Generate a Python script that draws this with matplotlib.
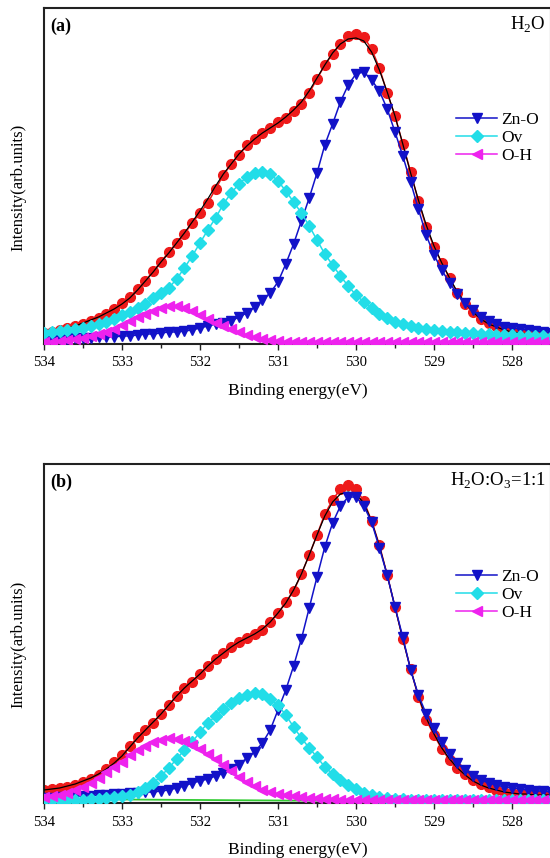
import numpy as np
import matplotlib.pyplot as plt
from matplotlib.ticker import MultipleLocator

plt.rcParams['font.family'] = ['Liberation Serif', 'DejaVu Serif']
plt.rcParams['mathtext.fontset'] = 'custom'
plt.rcParams['mathtext.rm'] = 'Liberation Serif'

# binding energy grid (eV), 0.1 eV step from 534.0 down to 527.5
energy = np.round(np.arange(534.0, 527.45, -0.1), 1)

# ---- panel (a): H2O ----
raw_a = [11, 12, 14, 16, 18, 20, 23, 26, 30, 35,
         41, 47, 55, 63, 73, 82, 92, 101, 110, 121,
         131, 141, 155, 169, 180, 189, 199, 205, 211, 216,
         222, 226, 233, 240, 251, 265, 279, 290, 300, 308,
         310, 307, 295, 276, 251, 228, 200, 172, 143, 117,
         97, 81, 66, 51, 40, 32, 25, 21, 18, 15,
         13, 12, 11, 10, 9, 9]
fit_a = [11, 12, 14, 16, 18, 21, 24, 27, 31, 35,
         40, 46, 54, 63, 72, 82, 91, 101, 111, 122,
         133, 145, 158, 170, 180, 190, 198, 205, 211, 216,
         221, 227, 234, 242, 253, 266, 279, 291, 300, 305,
         306, 303, 292, 274, 252, 228, 200, 171, 144, 119,
         98, 81, 66, 52, 41, 32, 25, 20, 17, 14,
         12, 11, 10, 9, 9, 8]
zno_a = [4, 4, 5, 5, 6, 6, 6, 7, 7, 7,
         8, 8, 9, 10, 10, 11, 12, 12, 13, 14,
         16, 18, 20, 21, 23, 27, 31, 37, 44, 51,
         62, 80, 100, 123, 146, 171, 199, 220, 242, 259,
         270, 272, 264, 253, 235, 212, 188, 162, 135, 109,
         89, 74, 61, 50, 41, 34, 27, 23, 20, 17,
         16, 15, 14, 13, 12, 11]
ov_a = [11, 12, 13, 14, 15, 16, 18, 20, 22, 25,
        29, 32, 36, 40, 46, 51, 56, 65, 76, 88,
        101, 114, 126, 140, 151, 160, 167, 171, 172, 170,
        163, 153, 142, 131, 118, 104, 90, 79, 68, 58,
        49, 42, 36, 30, 26, 22, 20, 18, 16, 15,
        14, 13, 12, 12, 11, 11, 10, 10, 9, 9,
        9, 8, 8, 8, 8, 7]
oh_a = [2, 2, 3, 4, 5, 6, 8, 10, 12, 15,
        19, 23, 27, 30, 33, 36, 38, 38, 36, 33,
        29, 25, 21, 18, 15, 12, 9, 7, 5, 4,
        3, 2, 2, 2, 2, 2, 2, 2, 2, 2,
        2, 2, 2, 2, 2, 2, 2, 2, 2, 2,
        2, 2, 2, 2, 2, 2, 2, 2, 2, 2,
        2, 2, 2, 2, 2, 2]

# ---- panel (b): H2O:O3 = 1:1 ----
raw_b = [13, 14, 15, 16, 18, 21, 24, 28, 34, 41,
         48, 57, 66, 73, 80, 89, 98, 107, 115, 121,
         129, 137, 144, 150, 156, 161, 165, 169, 173, 181,
         190, 201, 212, 229, 248, 268, 289, 303, 314, 318,
         314, 302, 282, 258, 228, 196, 164, 134, 106, 83,
         68, 54, 43, 35, 29, 23, 19, 16, 13, 11,
         10, 10, 9, 9, 8, 8]
fit_b = [13, 14, 15, 17, 19, 22, 25, 29, 34, 40,
         47, 56, 65, 73, 81, 89, 98, 107, 115, 122,
         129, 137, 144, 150, 156, 161, 165, 169, 174, 181,
         190, 200, 213, 229, 248, 268, 287, 301, 309, 311,
         309, 300, 282, 257, 228, 196, 164, 134, 107, 85,
         69, 55, 44, 35, 28, 22, 18, 15, 13, 11,
         10, 9, 9, 8, 8, 8]
zno_b = [5, 5, 6, 6, 7, 7, 7, 8, 8, 9,
         9, 10, 10, 11, 11, 12, 13, 15, 17, 20,
         22, 24, 27, 30, 34, 38, 45, 51, 60, 73,
         93, 113, 137, 164, 195, 226, 256, 280, 297, 306,
         306, 297, 281, 255, 228, 196, 166, 133, 108, 89,
         75, 61, 49, 40, 33, 27, 23, 20, 18, 16,
         15, 14, 13, 12, 12, 11]
ov_b = [3, 3, 3, 3, 3, 3, 4, 4, 5, 6,
        7, 8, 11, 15, 20, 27, 35, 44, 53, 61,
        71, 80, 87, 94, 100, 105, 108, 110, 109, 104,
        98, 88, 76, 65, 55, 46, 36, 29, 23, 18,
        14, 10, 8, 6, 5, 4, 4, 3, 3, 3,
        3, 3, 3, 3, 3, 3, 3, 3, 3, 3,
        3, 3, 3, 3, 3, 3]
oh_b = [6, 7, 8, 10, 13, 16, 20, 25, 31, 36,
        41, 48, 53, 57, 61, 63, 65, 64, 62, 58,
        54, 49, 44, 38, 32, 26, 21, 17, 13, 11,
        9, 8, 7, 6, 5, 5, 4, 4, 3, 3,
        3, 3, 3, 3, 3, 3, 3, 3, 3, 3,
        3, 3, 3, 3, 3, 3, 3, 3, 3, 3,
        3, 3, 3, 3, 3, 3]
bg_energy = [534.0, 533.0, 532.0, 531.0, 530.0, 529.0, 528.0, 527.5]
bg_b = [4, 3.5, 3, 2.5, 2, 2, 2, 2]

RED = '#ee1a1a'
BLUE = '#1212c8'
CYAN = '#22dde8'
MAGENTA = '#ee22ee'
GREEN = '#33cc33'


def draw_panel(ax, raw, fit, zno, ov, oh, letter, sample, ytop, bg=None):
    ax.plot(energy, raw, '-o', color=RED, mec=RED, ms=7, lw=1.1, zorder=2)
    ax.plot(energy, fit, color='black', lw=0.9, zorder=3)
    if bg is not None:
        ax.plot(bg_energy, bg, color=GREEN, lw=1.3, zorder=2)
    ax.plot(energy, zno, '-v', color=BLUE, mec=BLUE, ms=7.5, lw=1.1,
            label='Zn-O', zorder=4)
    ax.plot(energy, ov, '-D', color=CYAN, mec=CYAN, ms=5.8, lw=1.1,
            label='Ov', zorder=4)
    ax.plot(energy, oh, '-<', color=MAGENTA, mec=MAGENTA, ms=7.5, lw=1.1,
            label='O-H', zorder=4)

    ax.set_xlim(534, 527.5)
    ax.set_ylim(0, ytop)
    ax.set_yticks([])
    ax.xaxis.set_major_locator(MultipleLocator(1))
    ax.xaxis.set_minor_locator(MultipleLocator(0.5))
    ax.tick_params(axis='x', which='major', direction='out', length=4,
                   width=1, labelsize=10.5, pad=5, color='#222222')
    ax.tick_params(axis='x', which='minor', direction='out', length=3,
                   width=1, color='#222222')
    for sp in ax.spines.values():
        sp.set_linewidth(1.5)
        sp.set_color('#222222')

    ax.set_xlabel('Binding energy(eV)', fontsize=12.5, labelpad=10)
    ax.set_ylabel('Intensity(arb.units)', fontsize=12)
    ax.yaxis.set_label_coords(-0.034, 0.467)

    ax.text(0.012, 0.945, letter, transform=ax.transAxes, fontsize=13,
            fontweight='bold', va='center', ha='left')
    ax.text(0.99, 0.949, sample, transform=ax.transAxes, fontsize=13.5,
            va='center', ha='right')

    ax.legend(loc='upper left', bbox_to_anchor=(0.812, 0.69), frameon=False,
              fontsize=12.5, handlelength=2.4, handletextpad=0.2,
              labelspacing=0.1, borderpad=0, borderaxespad=0, numpoints=1)


fig = plt.figure(figsize=(5.5, 8.58), dpi=100)
ax_a = fig.add_axes([0.08, 0.5991, 0.9218, 0.3916])
ax_b = fig.add_axes([0.08, 0.0641, 0.9218, 0.3951])

draw_panel(ax_a, raw_a, fit_a, zno_a, ov_a, oh_a, '(a)',
           r'H$_\mathrm{2}$O', 336)
draw_panel(ax_b, raw_b, fit_b, zno_b, ov_b, oh_b, '(b)',
           r'H$_\mathrm{2}$O:O$_\mathrm{3}$=1:1', 339, bg=bg_b)

fig.savefig('out.png', dpi=100)
